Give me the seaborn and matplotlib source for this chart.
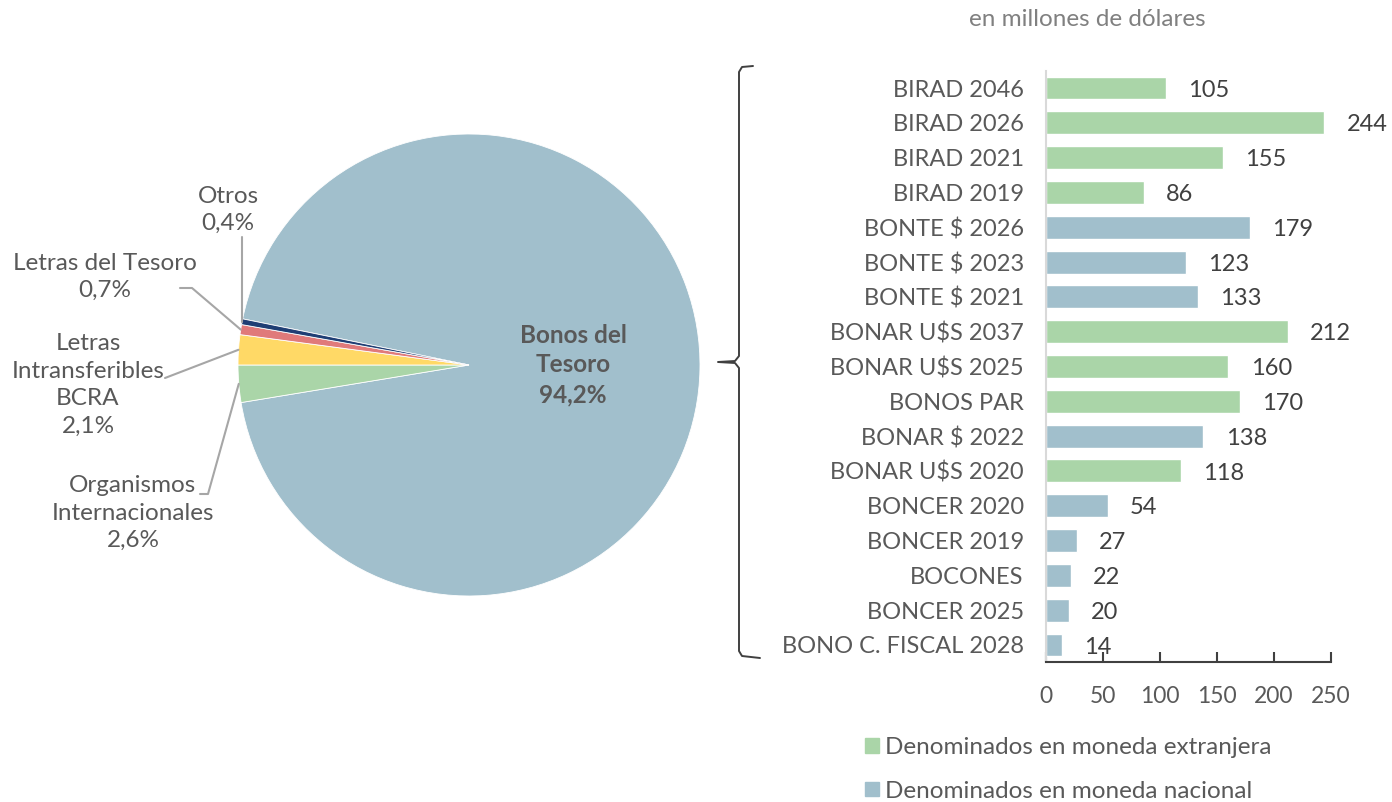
import numpy as np
import pandas as pd
import seaborn as sns
import matplotlib.pyplot as plt
from matplotlib.lines import Line2D
from matplotlib.patches import Patch

# pie data
pie_labels = ['Bonos del Tesoro', 'Organismos Internacionales', 'Letras Intransferibles BCRA',
              'Letras del Tesoro', 'Otros']
pie_values = [94.2, 2.6, 2.1, 0.7, 0.4]

# bar data
bonos = ['BIRAD 2046', 'BIRAD 2026', 'BIRAD 2021', 'BIRAD 2019', 'BONTE $ 2026', 'BONTE $ 2023',
         'BONTE $ 2021', 'BONAR U$S 2037', 'BONAR U$S 2025', 'BONOS PAR', 'BONAR $ 2022',
         'BONAR U$S 2020', 'BONCER 2020', 'BONCER 2019', 'BOCONES', 'BONCER 2025',
         'BONO C. FISCAL 2028']
montos = [105, 244, 155, 86, 179, 123, 133, 212, 160, 170, 138, 118, 54, 27, 22, 20, 14]
moneda = ['ext', 'ext', 'ext', 'ext', 'nac', 'nac', 'nac', 'ext', 'ext', 'ext', 'nac',
          'ext', 'nac', 'nac', 'nac', 'nac', 'nac']
x_ticks = [0, 50, 100, 150, 200, 250]

BLUE = '#A1BFCC'
GREEN = '#AAD5A8'
YELLOW = '#FFD966'
RED = '#E07A7A'
NAVY = '#1F3E74'
TXT = '#595959'
DARK = '#404040'

sns.set_theme(style='white')
plt.rcParams['font.family'] = ['Lato', 'DejaVu Sans']

W, H = 1392, 802
fig = plt.figure(figsize=(W / 100, H / 100), dpi=100)


def fx(px):
    return px / W


def fy(py):
    return 1 - py / H


# ---------- pie ----------
cx, cy, r = 469, 365, 231
axp = fig.add_axes([fx(cx - r), fy(cy + r), 2 * r / W, 2 * r / H])
start = 180 - 3.6 * sum(pie_values[2:])
wedges, _ = axp.pie(pie_values, colors=[BLUE, GREEN, YELLOW, RED, NAVY], startangle=start,
                    counterclock=False, radius=1,
                    wedgeprops=dict(linewidth=0.6, edgecolor='white'))
axp.set_xlim(-1, 1)
axp.set_ylim(-1, 1)
axp.set_aspect('equal')
axp.axis('off')

axp.text(0.45, 0, 'Bonos del\nTesoro\n94,2%', ha='center', va='center', fontsize=17.5,
         fontweight='bold', color=TXT, linespacing=1.35)


def edge_point(w):
    ang = np.deg2rad((w.theta1 + w.theta2) / 2)
    return np.cos(ang), np.sin(ang)


def d(px, py):
    return (px - cx) / r, (cy - py) / r


lab_specs = [
    (1, 'Organismos\nInternacionales\n2,6%', d(133, 513), [d(200, 494), d(208, 494)]),
    (2, 'Letras\nIntransferibles\nBCRA\n2,1%', d(88, 385), [d(165, 378)]),
    (3, 'Letras del Tesoro\n0,7%', d(105, 277), [d(180, 288), d(192, 288)]),
    (4, 'Otros\n0,4%', d(228, 210), [d(242, 237)]),
]
for idx, txt, pos, pts in lab_specs:
    ex, ey = edge_point(wedges[idx])
    xs = [p[0] for p in pts] + [ex]
    ys = [p[1] for p in pts] + [ey]
    if idx == 4:
        xs = [ex, ex]
    axp.plot(xs, ys, color='#A6A6A6', lw=1.5, clip_on=False)
    axp.text(pos[0], pos[1], txt, ha='center', va='center', fontsize=17.5, color=TXT,
             linespacing=1.38)

# ---------- bars ----------
df = pd.DataFrame({'bono': bonos, 'monto': montos, 'moneda': moneda})
top, bot = 70.6, 662.4
axb = fig.add_axes([fx(1046), fy(bot), 285 / W, (bot - top) / H])
sns.barplot(data=df, y='bono', x='monto', hue='moneda', palette={'ext': GREEN, 'nac': BLUE},
            dodge=False, width=0.66, legend=False, ax=axb, saturation=1)
axb.set_xlim(0, 250)
axb.set_ylim(len(bonos) - 0.5, -0.5)
axb.set_xticks(x_ticks)
axb.set_xlabel('')
axb.set_ylabel('')
for s in ['top', 'right']:
    axb.spines[s].set_visible(False)
axb.spines['left'].set_color('#D9D9D9')
axb.spines['left'].set_linewidth(1.5)
axb.spines['bottom'].set_color(DARK)
axb.spines['bottom'].set_linewidth(1.5)
axb.tick_params(axis='x', direction='in', length=7, width=1.5, color=DARK, pad=17,
                labelsize=16.5, labelcolor=TXT, bottom=True)
axb.tick_params(axis='y', length=0, pad=16, labelsize=17, labelcolor=TXT)
for i, v in enumerate(montos):
    axb.annotate(str(v), (v, i), xytext=(16, -1.5), textcoords='offset points',
                 ha='left', va='center', fontsize=17, color=DARK, annotation_clip=False)

fig.text(fx(1087), fy(19), 'en millones de dólares', ha='center', va='center', fontsize=17.5,
         color='#808080')

# brace
brace = [(753, 66), (742, 67), (739, 72), (739, 356), (735, 361), (718, 362), (735, 363),
         (739, 368), (739, 651), (742, 656), (760, 658)]
fig.add_artist(Line2D([fx(p[0]) for p in brace], [fy(p[1]) for p in brace],
                      color=DARK, lw=1.4, transform=fig.transFigure))

handles = [Patch(color=GREEN, label='Denominados en moneda extranjera'),
           Patch(color=BLUE, label='Denominados en moneda nacional')]
fig.legend(handles=handles, loc='upper left', bbox_to_anchor=(fx(853), fy(725)), frameon=False,
           fontsize=17.5, labelcolor=TXT, handlelength=0.55, handleheight=0.55,
           handletextpad=0.25, labelspacing=0.92, borderpad=0)

fig.savefig('out.png', dpi=100)
